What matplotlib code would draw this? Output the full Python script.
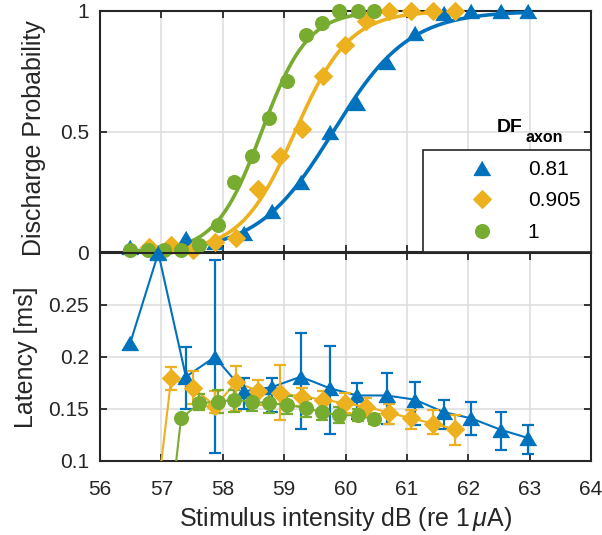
import numpy as np
import matplotlib
matplotlib.use("Agg")
import matplotlib.pyplot as plt
from matplotlib.lines import Line2D

plt.rcParams['font.family'] = ['Liberation Sans', 'DejaVu Sans']
plt.rcParams['mathtext.fontset'] = 'custom'
plt.rcParams['mathtext.rm'] = 'Liberation Sans'
plt.rcParams['mathtext.it'] = 'Liberation Sans:italic'
plt.rcParams['mathtext.bf'] = 'Liberation Sans:bold'

# ---------------- data ----------------
series_names = ['0.81', '0.905', '1']

blue_x = [56.49, 56.95, 57.40, 57.87, 58.35, 58.80, 59.27, 59.74, 60.19, 60.67, 61.13, 61.60, 62.05, 62.53, 62.98]
blue_p = [0.02, 0.00, 0.06, 0.04, 0.08, 0.17, 0.29, 0.50, 0.62, 0.79, 0.91, 0.99, 1.00, 1.00, 1.00]
blue_lat = [0.213, 0.300, 0.181, 0.200, 0.167, 0.171, 0.181, 0.170, 0.163, 0.163, 0.159, 0.147, 0.141, 0.130, 0.122]
blue_hi = [np.nan, np.nan, 0.210, 0.293, 0.180, 0.180, 0.223, 0.211, 0.175, 0.185, 0.176, 0.159, 0.157, 0.147, 0.135]
blue_lo = [np.nan, np.nan, 0.150, 0.108, 0.150, 0.147, 0.131, 0.126, 0.140, 0.136, 0.135, 0.131, 0.125, 0.111, 0.107]

yellow_x = [56.80, 57.16, 57.52, 57.88, 58.22, 58.58, 58.94, 59.29, 59.64, 59.99, 60.34, 60.71, 61.07, 61.43, 61.78]
yellow_p = [0.02, 0.03, 0.01, 0.04, 0.06, 0.26, 0.40, 0.51, 0.73, 0.86, 0.96, 1.00, 1.00, 1.00, 1.00]
yellow_lat = [0.0, 0.1795, 0.170, 0.153, 0.176, 0.167, 0.165, 0.162, 0.159, 0.1555, 0.152, 0.1465, 0.141, 0.136, 0.1305]
yellow_hi = [np.nan, 0.190, 0.187, 0.167, 0.191, 0.178, 0.192, 0.170, 0.167, 0.165, 0.161, 0.155, 0.149, 0.149, 0.144]
yellow_lo = [np.nan, 0.168, 0.155, 0.146, 0.148, 0.154, 0.139, 0.153, 0.150, 0.146, 0.1425, 0.136, 0.131, 0.126, 0.115]

green_x = [56.49, 56.78, 57.05, 57.32, 57.62, 57.92, 58.19, 58.47, 58.76, 59.05, 59.35, 59.61, 59.90, 60.20, 60.47]
green_p = [0.01, 0.01, 0.01, 0.01, 0.03, 0.11, 0.29, 0.40, 0.555, 0.71, 0.90, 0.95, 1.00, 1.00, 1.00]
green_lat = [0.0, 0.0, 0.0, 0.141, 0.1555, 0.157, 0.159, 0.157, 0.1555, 0.154, 0.151, 0.147, 0.144, 0.144, 0.140]
green_hi = [np.nan, np.nan, np.nan, np.nan, 0.164, 0.168, 0.168, 0.164, 0.164, 0.1625, 0.160, 0.157, 0.152, 0.150, 0.145]
green_lo = [np.nan, np.nan, np.nan, np.nan, 0.149, 0.146, 0.147, 0.148, 0.146, 0.145, 0.142, 0.139, 0.137, 0.138, 0.136]

x_ticks = [56, 57, 58, 59, 60, 61, 62, 63, 64]
p_ticks = [0, 0.5, 1]
p_ticklabels = ['0', '0.5', '1']
lat_ticks = [0.1, 0.15, 0.2, 0.25]
lat_ticklabels = ['0.1', '0.15', '0.2', '0.25']

# ---------------- style ----------------
C_BLUE = '#0072BD'
C_YEL = '#EDB120'
C_GRN = '#77AC30'
TXT = '#262626'
tri = [(0, 0.85), (-1, -0.85), (1, -0.85)]

styles = [
    dict(color=C_BLUE, marker=tri, ms=12.0),
    dict(color=C_YEL, marker='D', ms=9.3),
    dict(color=C_GRN, marker='o', ms=10.0),
]
series = [
    (blue_x, blue_p, blue_lat, blue_hi, blue_lo),
    (yellow_x, yellow_p, yellow_lat, yellow_hi, yellow_lo),
    (green_x, green_p, green_lat, green_hi, green_lo),
]


def logistic_fit(x, p):
    x = np.asarray(x)
    p = np.asarray(p)
    mus = np.arange(57.0, 61.5, 0.005)
    ss = np.arange(0.1, 1.2, 0.005)
    M, S = np.meshgrid(mus, ss, indexing='ij')
    pred = 1.0 / (1.0 + np.exp(-(x[None, None, :] - M[..., None]) / S[..., None]))
    err = ((pred - p[None, None, :]) ** 2).sum(-1)
    i, j = np.unravel_index(np.argmin(err), err.shape)
    return mus[i], ss[j]


W, H = 602, 535
fig = plt.figure(figsize=(W / 100, H / 100), dpi=100)
L, R = 100, 591
ax1 = fig.add_axes([L / W, 1 - 252 / H, (R - L) / W, (252 - 11) / H])
ax2 = fig.add_axes([L / W, 1 - 461 / H, (R - L) / W, (461 - 253) / H])

for ax in (ax1, ax2):
    ax.patch.set_visible(False)
    ax.set_xlim(56, 64)
    ax.set_xticks(x_ticks)
    ax.grid(True, color='#DCDCDC', lw=1.1, zorder=0)
    ax.set_axisbelow(True)
    for sp in ax.spines.values():
        sp.set_color(TXT)
        sp.set_linewidth(1.5)
    ax.tick_params(direction='in', length=5, width=1.3, colors=TXT,
                   labelsize=15, top=True, right=True, pad=8)

ax1.set_ylim(0, 1)
ax1.set_yticks(p_ticks)
ax1.set_yticklabels(p_ticklabels)
ax1.tick_params(axis='x', labelbottom=False)

ax2.set_ylim(0.1, 0.3)
ax2.set_yticks(lat_ticks)
ax2.set_yticklabels(lat_ticklabels)
ax2.set_xticklabels([str(t) for t in x_ticks])
ax2.tick_params(axis='x', pad=14)

# top panel: data + logistic fits
for (x, p, lat, hi, lo), st in zip(series, styles):
    mu, s = logistic_fit(x, p)
    xf = np.linspace(min(x), max(x), 300)
    yf = 1.0 / (1.0 + np.exp(-(xf - mu) / s))
    ax1.plot(xf, yf, color=st['color'], lw=2.6, clip_on=False, zorder=3)
    ax1.plot(x, p, ls='none', marker=st['marker'], ms=st['ms'], color=st['color'],
             mfc=st['color'], mec=st['color'], mew=0.8, clip_on=False, zorder=4)

# bottom panel: latency with error bars
for (x, p, lat, hi, lo), st in zip(series, styles):
    x = np.asarray(x)
    lat = np.asarray(lat)
    hi = np.asarray(hi)
    lo = np.asarray(lo)
    ax2.plot(x, lat, color=st['color'], lw=1.5, zorder=3)
    ok = np.isfinite(hi)
    ax2.errorbar(x[ok], lat[ok], yerr=[lat[ok] - lo[ok], hi[ok] - lat[ok]], fmt='none',
                 ecolor=st['color'], elinewidth=1.6, capsize=4.5, capthick=1.6, zorder=3)
    vis = lat >= 0.1
    ax2.plot(x[vis], lat[vis], ls='none', marker=st['marker'], ms=st['ms'], color=st['color'],
             mfc=st['color'], mec=st['color'], mew=0.8, clip_on=False, zorder=4)

ax1.set_ylabel('Discharge Probability', fontsize=18, color=TXT)
ax1.yaxis.set_label_coords(-0.11, 0.473)
ax2.set_ylabel('Latency [ms]', fontsize=18, color=TXT)
ax2.yaxis.set_label_coords(-0.126, 0.5)
ax2.set_xlabel(r'Stimulus intensity dB (re 1$\,\mu$A)', fontsize=18, color=TXT, labelpad=4)

# legend
handles = [Line2D([], [], ls='none', marker=st['marker'], ms=st['ms'], color=st['color'],
                  mfc=st['color'], mec=st['color'], mew=0.8) for st in styles]
lx0 = (423 - L) / (R - L)
leg = ax1.legend(handles, series_names, loc='lower left',
                 bbox_to_anchor=(lx0, 0.0, 1 - lx0, 1.0), mode='expand',
                 borderaxespad=0, fontsize=15, handlelength=4.7, handletextpad=-0.15,
                 borderpad=0.48, labelspacing=0.6, numpoints=1,
                 fancybox=False, framealpha=1, edgecolor=TXT)
leg.get_frame().set_linewidth(1.2)
leg.set_zorder(10)
for t in leg.get_texts():
    t.set_color('black')

fig.text(497 / W, 1 - 132 / H, 'DF', fontsize=14, fontweight='bold', color='black',
         ha='left', va='baseline')
fig.text(526 / W, 1 - 142 / H, 'axon', fontsize=11.5, fontweight='bold', color='black',
         ha='left', va='baseline')

fig.savefig('out.png', dpi=100, facecolor='white')
